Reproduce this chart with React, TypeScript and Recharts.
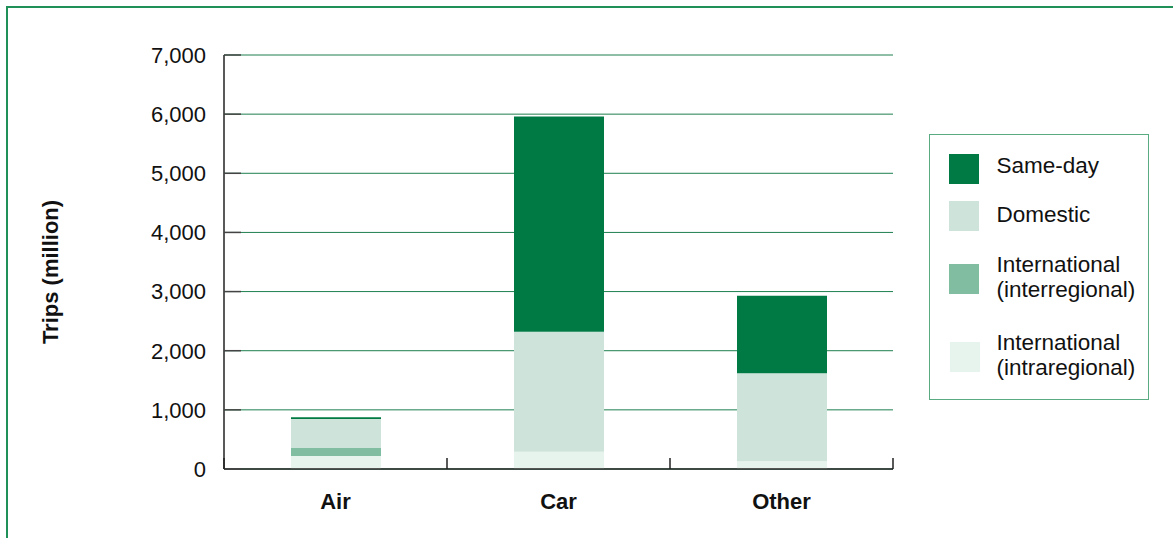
import React from 'react';
import { BarChart, Bar, XAxis, YAxis, CartesianGrid, Legend } from 'recharts';

const categories = ['Air', 'Car', 'Other'];
const intraregional = [220, 290, 130];
const interregional = [135, 0, 0];
const domestic = [490, 2030, 1490];
const sameDay = [30, 3640, 1310];
const yTicks = [0, 1000, 2000, 3000, 4000, 5000, 6000, 7000];
// category boundaries (integers) and category centres (halves)
const xTicks = [0, 0.5, 1, 1.5, 2, 2.5, 3];

const series = [
  { key: 'intra', name: 'International (intraregional)', lines: ['International', '(intraregional)'], color: '#e7f3ed', values: intraregional },
  { key: 'inter', name: 'International (interregional)', lines: ['International', '(interregional)'], color: '#80bda1', values: interregional },
  { key: 'domestic', name: 'Domestic', lines: ['Domestic'], color: '#cee4da', values: domestic },
  { key: 'sameDay', name: 'Same-day', lines: ['Same-day'], color: '#007a45', values: sameDay },
];

const data = categories.map((c, i) => {
  const row: any = { category: c, pos: i + 0.5 };
  series.forEach((s) => { row[s.key] = s.values[i]; });
  return row;
});

const FONT = '"Liberation Sans", Arial, Helvetica, sans-serif';

const legendLayout: Record<string, { sw: number; swl: number; tx: number }> = {
  sameDay: { sw: 18.5, swl: 18.5, tx: 18 },
  domestic: { sw: 65.5, swl: 18.5, tx: 67 },
  inter: { sw: 128.5, swl: 18.5, tx: 117 },
  intra: { sw: 206.5, swl: 19.5, tx: 194.5 },
};

const LegendBox = () => {
  const items = [...series].reverse();
  return (
    <div style={{ position: 'relative', width: 220, height: 266, boxSizing: 'border-box', border: '1.5px solid #5aab82', fontFamily: FONT, background: '#fff' }}>
      {items.map((s) => {
        const l = legendLayout[s.key];
        return (
          <React.Fragment key={s.key}>
            <div style={{ position: 'absolute', left: l.swl, top: l.sw, width: 30, height: 30, background: s.color }} />
            <div style={{ position: 'absolute', left: 66.5, top: l.tx, fontSize: 22.5, lineHeight: '25px', color: '#111', whiteSpace: 'nowrap' }}>
              {s.lines.map((t, i) => <div key={i}>{t}</div>)}
            </div>
          </React.Fragment>
        );
      })}
    </div>
  );
};

const YLabel = () => {
  const cx = 42;
  const cy = 264;
  return (
    <text x={cx} y={cy} transform={`rotate(-90, ${cx}, ${cy})`} textAnchor="middle" dominantBaseline="central" fontFamily={FONT} fontSize={22} fontWeight="bold" fill="#111">
      Trips (million)
    </text>
  );
};

const BottomTick = (props: any) => {
  const { x, y, payload } = props;
  const v = payload.value;
  if (Number.isInteger(v)) {
    return <line x1={x} x2={x} y1={y} y2={y - 11} stroke="#222" strokeWidth={1.5} />;
  }
  return (
    <text x={x} y={y + 24} dy="0.71em" textAnchor="middle" fontFamily={FONT} fontSize={22} fontWeight="bold" fill="#111">
      {categories[Math.floor(v)]}
    </text>
  );
};

export default function App() {
  return (
    <div style={{ position: 'fixed', left: 6, top: 6, width: 1200, height: 560, borderTop: '2px solid #1f9058', borderLeft: '2px solid #1f9058', background: '#fff' }}>
      <div style={{ position: 'absolute', left: 0, top: 0 }}>
        <BarChart width={1165} height={530} data={data} margin={{ top: 47, right: 280, bottom: 29, left: 0 }}>
          <CartesianGrid vertical={false} stroke="#1e7f4e" strokeWidth={1} />
          <XAxis dataKey="pos" type="number" domain={[0, 3]} ticks={xTicks} interval={0} height={40} axisLine={{ stroke: '#222', strokeWidth: 1.5 }} tickLine={false} tickSize={0} tickMargin={0} tick={<BottomTick />} />
          <YAxis width={216} domain={[0, 7000]} ticks={yTicks} interval={0} tickFormatter={(v: number) => v.toLocaleString('en-US')} axisLine={{ stroke: '#222', strokeWidth: 1.5 }} tickLine={{ stroke: '#444', strokeWidth: 1.5 }} tickSize={-17} tickMargin={35} tick={{ fontFamily: FONT, fontSize: 22, fill: '#111' }} label={<YLabel />} />
          <Legend layout="horizontal" align="center" verticalAlign="middle" content={<LegendBox />} wrapperStyle={{ position: 'absolute', left: 921, top: 126, width: 220, height: 266 }} />
          {series.map((s) => (
            <Bar key={s.key} dataKey={s.key} name={s.name} stackId="a" fill={s.color} barSize={90} isAnimationActive={false} />
          ))}
        </BarChart>
      </div>
    </div>
  );
}
